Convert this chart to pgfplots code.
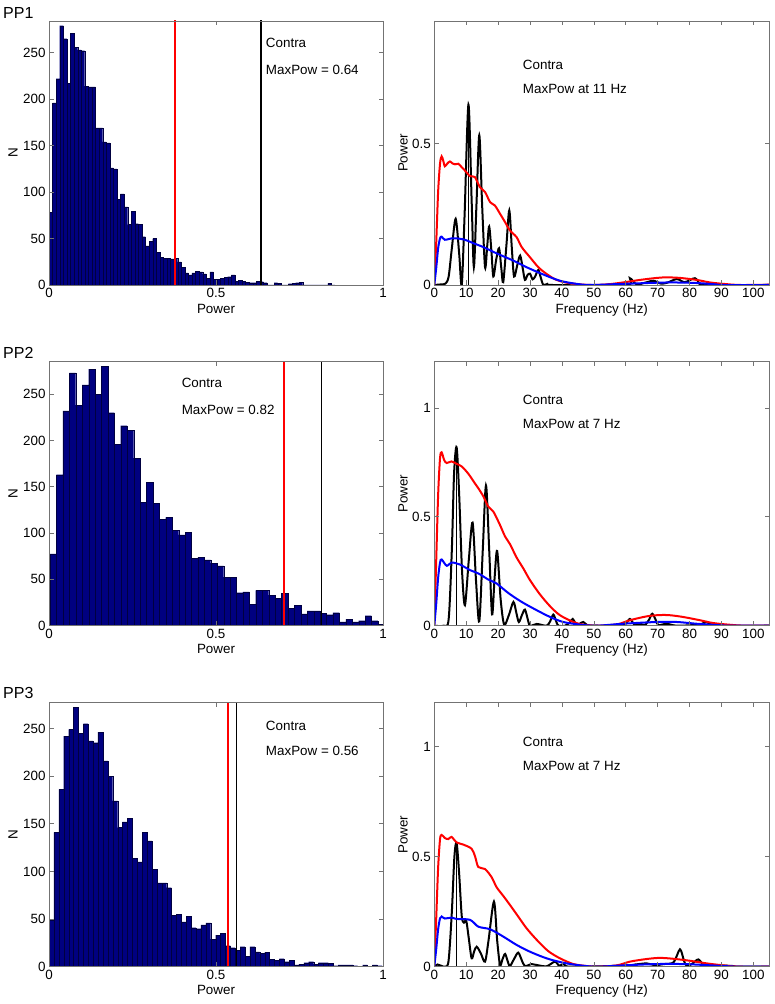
\documentclass[border=0pt]{standalone}
\usepackage{fontspec}
\setmainfont{Liberation Sans}
\usepackage{pgfplots}
\usepackage{pgfplotstable}
\pgfplotsset{compat=1.18}
\definecolor{histc}{rgb}{0,0,0.5}
\definecolor{histe}{rgb}{0,0,0.25}
\newcommand\fs{\fontsize{13.4}{16}\selectfont}
\newcommand\fsb{\fontsize{16}{19}\selectfont}

% histogram counts, one per bin
\pgfplotstableread{
n
78
196
222
279
265
217
271
256
253
252
214
213
213
169
169
154
153
126
125
92
98
84
65
79
66
65
52
42
47
50
35
30
29
29
28
29
25
19
13
11
13
15
14
12
7
14
6
6
7
8
9
11
4
5
4
3
2.5
2.5
4
3.5
2.5
0
0
2.5
2
0
0
1.5
2
2.5
3
0
0
0
0
0
0
0
2
0
0
}\histA

\pgfplotstableread{
n
77.6
163
232
273
238
260
277
250
280
230
196
216
211
181
133.5
155
132
115
117
103
98
101
73
74
71
67.5
64.6
52.4
52.4
35.7
36.5
23
38
38
33
29.6
35
18.8
22
12.7
16
16
13.4
12
14
4
7
4
5.4
10.8
5.4
1.8
0
}\histB

\pgfplotstableread{
n
49
141
186
242
249
272
245
255
237
235
246
216
200
174
146
152
156
114
110
141
132
102
88
88
83
54
55
47
53
41
40
44
46
29
33
35
22
20
17.5
21
11
21
15.5
14
15
8
7
8.4
5.3
7
1.8
2.8
4.2
5.3
2.8
4.2
4.2
3.5
1
1.8
1.8
1.8
1
0
1.8
0
1.8
1
0
}\histC

\pgfplotsset{
  mybase/.style={
    scale only axis, axis on top,
    axis line style={draw=black!55, line width=0.6pt},
    tick style={draw=black!55, line width=0.6pt},
    tick align=inside, major tick length=4.5pt,
    xtick pos=both, ytick pos=both, xticklabel pos=lower, yticklabel pos=left,
    tick label style={font=\fs},
    label style={font=\fs},
    /pgf/number format/assume math mode=true,
    xlabel style={at={(axis description cs:0.5,-0.107)},anchor=base},
  },
  lefthist/.style={mybase, width=334pt, height=264pt,
    xmin=0, xmax=1, ymin=0, xtick={0,0.5,1}, ytick={0,50,...,250},
    xlabel={Power}, ylabel={N},
    ylabel style={at={(axis description cs:-0.0943,0.5)},anchor=base}},
  rightspec/.style={mybase, width=335pt, height=264pt,
    xmin=0, xmax=105, ymin=0, xtick={0,10,...,100},
    xlabel={Frequency (Hz)}, ylabel={Power},
    ylabel style={at={(axis description cs:-0.0797,0.5)},anchor=base}},
  histbar/.style={ybar interval, fill=histc, draw=histe, line width=0.15pt},
  spec/.style={smooth, tension=0.5, line width=2pt, no marks},
}
\tikzset{txt/.style={anchor=west, inner xsep=0pt, font=\fs}}

\begin{document}
\begin{tikzpicture}[x=1pt,y=1pt]
\path[use as bounding box] (0,0) rectangle (774,1004);

% ---------- Row 1 ----------
\node[anchor=west, inner xsep=0pt, font=\fsb] at (3,991.3) {PP1};
\begin{axis}[lefthist, at={(49pt,719pt)}, anchor=south west, ymax=284]
\addplot[histbar] table[x expr={\coordindex*0.0107}, y=n] {\histA};
\addplot[red, line width=2pt] coordinates {(0.378,0) (0.378,300)};
\addplot[black, line width=2pt] coordinates {(0.636,0) (0.636,300)};
\node[txt] at (axis description cs:0.649,0.917) {Contra};
\node[txt] at (axis description cs:0.649,0.814) {MaxPow = 0.64};
\end{axis}

\begin{axis}[rightspec, at={(434.3pt,719pt)}, anchor=south west, ymax=0.934, ytick={0,0.5}]
\addplot[spec, black] coordinates {(0,0) (2,0.002) (3.5,0.005) (4.5,0.03) (5.5,0.13) (6.7,0.234) (7.8,0.11) (8.6,0.0) (9.5,0.25) (10.7,0.638) (11.7,0.3) (12.4,0.063) (13.2,0.28) (14.1,0.53) (15,0.28) (15.9,0.063) (16.6,0.14) (17.2,0.207) (17.9,0.12) (18.5,0.03) (19.4,0.09) (20.3,0.13) (21,0.06) (21.6,0.01) (22.6,0.14) (23.5,0.264) (24.3,0.13) (25,0.03) (26,0.07) (26.9,0.104) (27.7,0.06) (28.4,0.018) (29.2,0.035) (30,0.04) (30.8,0.02) (31.6,0.03) (32.6,0.053) (33.4,0.025) (34.2,0.0) (35.7,0.005) (37,0) (60,0) (61.3,0.024) (63.4,0.002) (66,0.008) (68.7,0.015) (71,0.005) (73,0.008) (76,0.021) (78.5,0.01) (81.7,0.024) (83.3,0.002) (85,0) (105,0)};
\addplot[black, line width=0.7pt] coordinates {(10.8,0) (10.8,0.638)};
\addplot[spec, red] coordinates {(0,0) (0.6,0.15) (1.2,0.33) (1.8,0.43) (2.3,0.455) (2.8,0.44) (3.3,0.42) (4.1,0.43) (4.9,0.437) (5.7,0.43) (6.5,0.427) (7.5,0.429) (8.5,0.418) (9.6,0.405) (11.2,0.385) (12.7,0.382) (14.3,0.346) (15.9,0.329) (17.5,0.293) (19,0.281) (20.6,0.252) (22.2,0.222) (23.7,0.193) (25.8,0.169) (27.4,0.134) (30,0.098) (32.6,0.063) (35.2,0.039) (38.3,0.018) (42.5,0.006) (48.8,0) (54,0.002) (59.2,0.009) (64.5,0.018) (69.7,0.025) (72.8,0.027) (77,0.025) (82.2,0.018) (86.4,0.009) (90.6,0.004) (95.8,0) (105,0.001)};
\addplot[spec, blue] coordinates {(0,0) (0.6,0.06) (1.2,0.13) (1.8,0.165) (2.3,0.171) (3.3,0.16) (5.4,0.165) (7,0.165) (9.6,0.16) (12.2,0.148) (15.4,0.134) (19.5,0.112) (24.8,0.086) (28.9,0.063) (34.2,0.037) (39.4,0.015) (44.6,0.004) (48.8,0) (59.2,0.004) (69.7,0.008) (74.9,0.009) (82.2,0.007) (88.4,0.002) (90.6,0) (105,0)};
\node[txt] at (axis description cs:0.264,0.833) {Contra};
\node[txt] at (axis description cs:0.264,0.741) {MaxPow at 11 Hz};
\end{axis}

% ---------- Row 2 ----------
\node[anchor=west, inner xsep=0pt, font=\fsb] at (3,650.7) {PP2};
\begin{axis}[lefthist, at={(49pt,378.3pt)}, anchor=south west, ymax=285]
\addplot[histbar] table[x expr={0.003+\coordindex*0.01925}, y=n] {\histB};
\addplot[red, line width=2pt] coordinates {(0.705,0) (0.705,300)};
\addplot[black, line width=1pt] coordinates {(0.817,0) (0.817,300)};
\node[txt] at (axis description cs:0.397,0.918) {Contra};
\node[txt] at (axis description cs:0.397,0.816) {MaxPow = 0.82};
\end{axis}

\begin{axis}[rightspec, at={(434.3pt,378.3pt)}, anchor=south west, ymax=1.212, ytick={0,0.5,1}]
\addplot[spec, black] coordinates {(0,0) (3,0) (4.5,0.03) (5.5,0.35) (6.2,0.7) (7,0.819) (7.8,0.6) (8.7,0.25) (9.6,0.094) (10.8,0.3) (12,0.473) (13.1,0.2) (14.1,0.02) (15.2,0.35) (16.2,0.644) (17.2,0.35) (18.1,0.052) (18.9,0.22) (19.7,0.343) (20.8,0.12) (21.9,0.005) (23.4,0.05) (24.8,0.109) (25.7,0.06) (26.5,0.017) (27.5,0.05) (28.4,0.074) (29.2,0.035) (30,0) (32.1,0.008) (35.2,0) (36.3,0.02) (37.3,0.051) (38.2,0.02) (38.9,0) (41,0) (42.5,0.015) (43.4,0.031) (44.6,0.002) (45.7,0.01) (46.7,0.017) (48,0.002) (50,0) (58,0) (60,0.01) (61.3,0.031) (62.5,0.008) (63.4,0.002) (64.7,0.008) (66,0.002) (67.4,0.03) (68.3,0.055) (69.3,0.03) (70.2,0.003) (72.8,0.009) (76,0) (83,0.005) (85.4,0.017) (88.5,0) (105,0)};
\addplot[black, line width=0.7pt] coordinates {(7,0) (7,0.819)};
\addplot[spec, red] coordinates {(0,0) (0.6,0.3) (1.2,0.6) (1.8,0.77) (2.3,0.796) (3.1,0.76) (3.9,0.747) (5.4,0.754) (7,0.743) (8.6,0.731) (10.7,0.697) (12.7,0.654) (13.8,0.631) (15.4,0.593) (16.9,0.547) (18.5,0.524) (20.6,0.462) (22.2,0.409) (23.7,0.375) (25.8,0.313) (27.9,0.263) (30,0.209) (33.1,0.144) (36.3,0.089) (39.4,0.048) (43.6,0.017) (46.7,0.005) (50.9,0) (57.2,0.006) (61.3,0.025) (66.6,0.043) (70.7,0.049) (73.9,0.048) (78,0.04) (83.3,0.025) (87.5,0.012) (93.7,0.003) (98,0) (105,0)};
\addplot[spec, blue] coordinates {(0,0) (0.6,0.1) (1.2,0.22) (1.8,0.29) (2.3,0.304) (3.9,0.275) (5.4,0.29) (8,0.281) (11.2,0.255) (13.8,0.24) (16.9,0.212) (19.5,0.194) (23.2,0.15) (27.4,0.109) (32.1,0.071) (36.3,0.04) (40.4,0.017) (45.7,0.005) (50.9,0) (59.2,0.009) (69.7,0.017) (76,0.017) (82.2,0.009) (88.5,0.003) (92.8,0) (105,0)};
\node[txt] at (axis description cs:0.264,0.854) {Contra};
\node[txt] at (axis description cs:0.264,0.763) {MaxPow at 7 Hz};
\end{axis}

% ---------- Row 3 ----------
\node[anchor=west, inner xsep=0pt, font=\fsb] at (3,310.7) {PP3};
\begin{axis}[lefthist, at={(49pt,37.3pt)}, anchor=south west, ymax=277]
\addplot[histbar] table[x expr={\coordindex*0.01467}, y=n] {\histC};
\addplot[red, line width=2pt] coordinates {(0.535,0) (0.535,300)};
\addplot[black, line width=1.2pt] coordinates {(0.561,0) (0.561,300)};
\node[txt] at (axis description cs:0.649,0.914) {Contra};
\node[txt] at (axis description cs:0.649,0.816) {MaxPow = 0.56};
\end{axis}

\begin{axis}[rightspec, at={(434.3pt,37.3pt)}, anchor=south west, ymax=1.2, ytick={0,0.5,1}]
\addplot[spec, black] coordinates {(0,0) (1,0.01) (2,0.005) (3.5,0.0) (4.5,0.03) (5.5,0.25) (6.3,0.5) (7,0.562) (7.8,0.42) (8.6,0.23) (9.3,0.2) (10,0.21) (10.8,0.13) (11.7,0.038) (12.5,0.07) (13.3,0.091) (14.6,0.06) (15.9,0.023) (17,0.12) (18.7,0.296) (19.7,0.12) (20.6,0.008) (21.4,0.035) (22.2,0.058) (23,0.025) (23.7,0.003) (25,0.035) (26.3,0.064) (27.4,0.03) (28.4,0.003) (30.5,0.012) (32,0.008) (35.2,0.002) (37.8,0.023) (39.2,0.004) (40.8,0.015) (42.5,0) (60,0.005) (63,0.01) (66.6,0.015) (69,0.007) (72,0.012) (75,0.02) (77,0.079) (78.2,0.03) (79.1,0.003) (81,0.015) (82.8,0.033) (84.8,0.003) (88.5,0.006) (93.7,0.003) (95,0) (105,0)};
\addplot[black, line width=0.7pt] coordinates {(7,0) (7,0.562)};
\addplot[spec, red] coordinates {(0,0) (0.6,0.22) (1.2,0.45) (1.8,0.58) (2.3,0.599) (3.3,0.585) (4.4,0.58) (5.4,0.59) (7,0.565) (9.1,0.555) (11.7,0.536) (12.8,0.5) (13.8,0.453) (15.9,0.444) (18,0.406) (19.5,0.362) (21.6,0.322) (23.7,0.281) (26.3,0.228) (28.9,0.175) (32.1,0.122) (35.7,0.071) (39.4,0.038) (43.6,0.012) (47.8,0.003) (50.9,0) (57.2,0.006) (61.3,0.023) (66.6,0.035) (70.7,0.04) (74.9,0.036) (80.1,0.027) (85.4,0.015) (90.6,0.006) (95.8,0) (105,0)};
\addplot[spec, blue] coordinates {(0,0) (0.6,0.08) (1.2,0.17) (1.8,0.22) (2.3,0.228) (3.3,0.219) (5.4,0.223) (7,0.217) (11.2,0.213) (13.8,0.182) (17.5,0.17) (21.6,0.137) (25.8,0.099) (30,0.068) (35.2,0.038) (40.4,0.018) (45.7,0.006) (50.9,0) (59.2,0.006) (69.7,0.012) (78,0.012) (84.3,0.008) (90.6,0.003) (95.8,0) (105,0)};
\node[txt] at (axis description cs:0.264,0.852) {Contra};
\node[txt] at (axis description cs:0.264,0.759) {MaxPow at 7 Hz};
\end{axis}
\end{tikzpicture}
\end{document}
